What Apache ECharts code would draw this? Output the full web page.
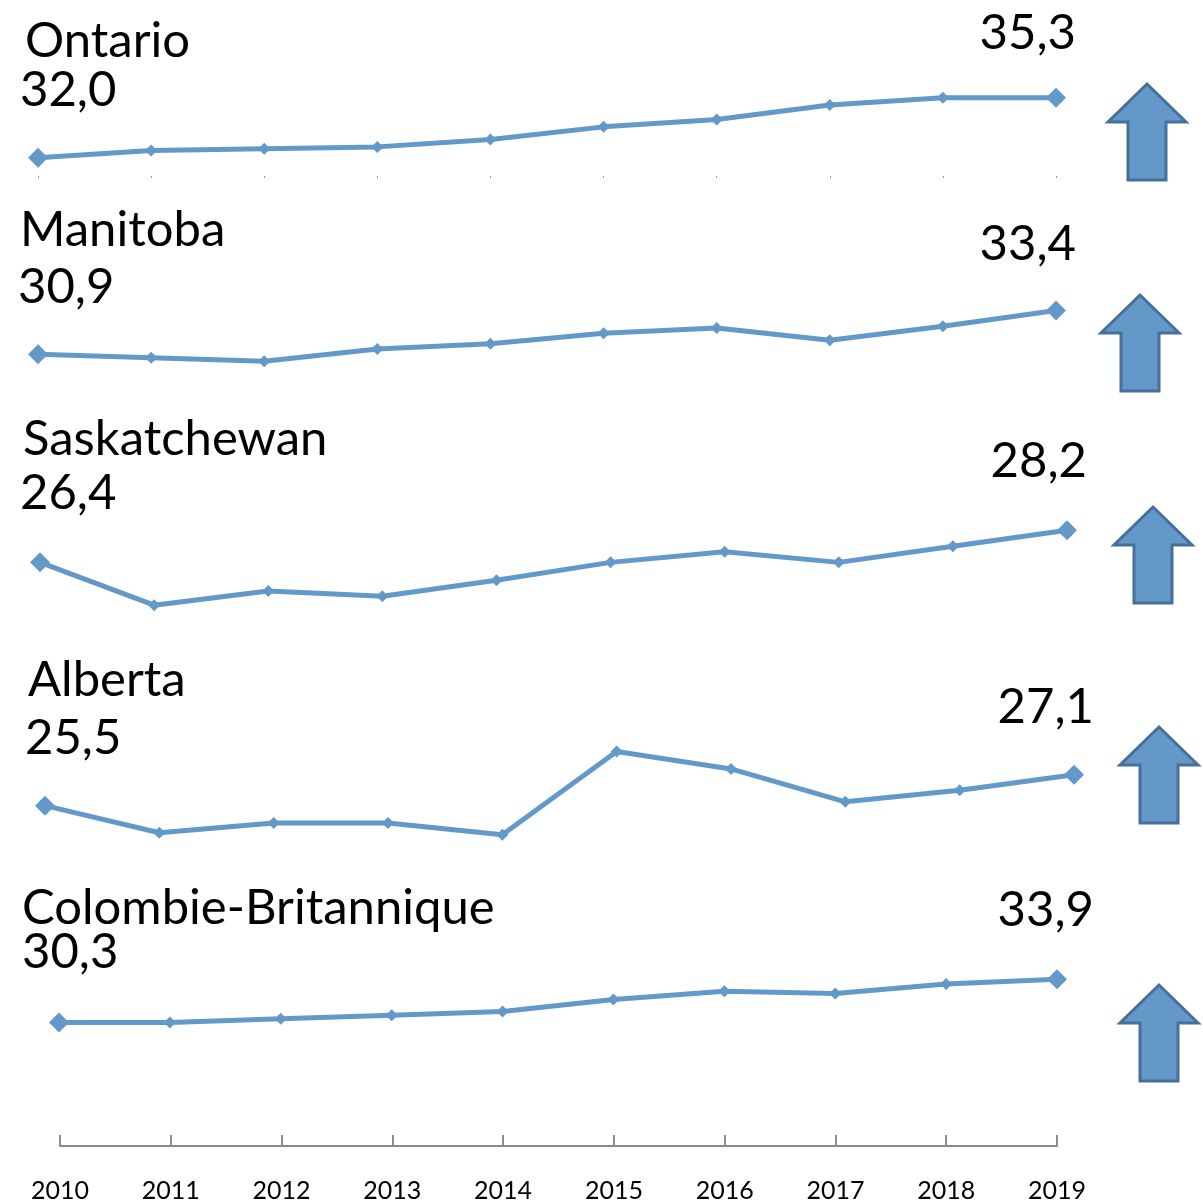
<!DOCTYPE html>
<html>
<head>
<meta charset="utf-8">
<script src="https://cdn.jsdelivr.net/npm/echarts@6.0.0/dist/echarts.min.js"></script>
<style>
  html, body { margin: 0; padding: 0; background: #fff; }
  #chart { width: 1203px; height: 1203px; }
</style>
</head>
<body>
<div id="chart"></div>
<script>
// Data
const years = ['2010', '2011', '2012', '2013', '2014', '2015', '2016', '2017', '2018', '2019'];
const provinces = ['Ontario', 'Manitoba', 'Saskatchewan', 'Alberta', 'Colombie-Britannique'];
const ontario = [32.0, 32.4, 32.5, 32.6, 33.0, 33.7, 34.1, 34.9, 35.3, 35.3];
const manitoba = [30.9, 30.7, 30.5, 31.2, 31.5, 32.1, 32.4, 31.7, 32.5, 33.4];
const saskatchewan = [26.4, 24.0, 24.8, 24.5, 25.4, 26.4, 27.0, 26.4, 27.3, 28.2];
const alberta = [25.5, 24.1, 24.6, 24.6, 24.0, 28.3, 27.4, 25.7, 26.3, 27.1];
const colombie = [30.3, 30.3, 30.6, 30.9, 31.2, 32.2, 32.9, 32.7, 33.5, 33.9];
const seriesData = [ontario, manitoba, saskatchewan, alberta, colombie];

// Layout of each small panel (positions only)
const panels = [
  { left: 38, right: 147, top: 85, height: 91, min: 31, max: 36,
    nameX: 25, nameY: 41, startX: 20, startY: 90, endX: 1076, endY: 33, arrow: [1147, 84] },
  { left: 38, right: 147, top: 300, height: 70, min: 30, max: 34,
    nameX: 20, nameY: 230, startX: 18, startY: 287, endX: 1076, endY: 244, arrow: [1140, 295] },
  { left: 40, right: 136, top: 516, height: 107, min: 23, max: 29,
    nameX: 23, nameY: 439, startX: 20, startY: 493, endX: 1087, endY: 461, arrow: [1153, 507] },
  { left: 45, right: 129, top: 738, height: 116, min: 23, max: 29,
    nameX: 28, nameY: 680, startX: 25, startY: 738, endX: 1094, endY: 707, arrow: [1159, 727] },
  { left: 59, right: 146, top: 966, height: 60, min: 30, max: 35,
    nameX: 22, nameY: 908, startX: 22, startY: 952, endX: 1094, endY: 910, arrow: [1159, 985] }
];

const lineColor = '#6399C9';
const fontFamily = 'Lato, "Noto Sans", sans-serif';
const textFont = '49px ' + fontFamily;
const fmt = (v) => v.toFixed(1).replace('.', ',');

var chartDom = document.getElementById('chart');
var myChart = echarts.init(chartDom);

const grid = [];
const xAxis = [];
const yAxis = [];
const series = [];
const graphic = [];

panels.forEach((p, i) => {
  grid.push({ left: p.left, right: p.right, top: p.top, height: p.height });
  xAxis.push({
    type: 'category',
    gridIndex: i,
    data: years,
    boundaryGap: false,
    axisLine: { show: false },
    axisTick: { show: i === 0, length: 2, lineStyle: { color: '#999' } },
    axisLabel: { show: false }
  });
  yAxis.push({
    type: 'value',
    gridIndex: i,
    min: p.min,
    max: p.max,
    show: false
  });
  const data = seriesData[i];
  series.push({
    type: 'line',
    xAxisIndex: i,
    yAxisIndex: i,
    data: data.map((v, k) => ({
      value: v,
      symbolSize: (k === 0 || k === data.length - 1) ? 20 : 12
    })),
    symbol: 'diamond',
    lineStyle: { color: lineColor, width: 5 },
    itemStyle: { color: lineColor },
    animation: false
  });

  // Province name
  graphic.push({
    type: 'text',
    style: {
      text: provinces[i], x: p.nameX, y: p.nameY,
      font: textFont, fill: '#000',
      textAlign: 'left', textVerticalAlign: 'middle'
    }
  });
  // First value
  graphic.push({
    type: 'text',
    style: {
      text: fmt(data[0]), x: p.startX, y: p.startY,
      font: textFont, fill: '#000',
      textAlign: 'left', textVerticalAlign: 'middle'
    }
  });
  // Last value
  graphic.push({
    type: 'text',
    style: {
      text: fmt(data[data.length - 1]), x: p.endX, y: p.endY,
      font: textFont, fill: '#000',
      textAlign: 'right', textVerticalAlign: 'middle'
    }
  });
  // Up arrow
  const [tx, ty] = p.arrow;
  graphic.push({
    type: 'polygon',
    shape: {
      points: [
        [tx, ty], [tx + 39, ty + 38], [tx + 19, ty + 38], [tx + 19, ty + 96],
        [tx - 19, ty + 96], [tx - 19, ty + 38], [tx - 39, ty + 38]
      ]
    },
    style: { fill: '#6398C8', stroke: '#46709A', lineWidth: 3 }
  });
});

// Shared year axis at the bottom
grid.push({ left: 60, right: 146, top: 1100, height: 46 });
xAxis.push({
  type: 'category',
  gridIndex: 5,
  data: years,
  boundaryGap: false,
  axisLine: { show: true, lineStyle: { color: '#8C8C8C', width: 2 } },
  axisTick: { show: true, inside: true, length: 11, alignWithLabel: true, lineStyle: { color: '#8C8C8C', width: 2 } },
  axisLabel: { color: '#000', fontSize: 25, fontFamily: fontFamily, margin: 32 }
});
yAxis.push({ type: 'value', gridIndex: 5, show: false });

var option = {
  backgroundColor: '#fff',
  animation: false,
  grid,
  xAxis,
  yAxis,
  series,
  graphic
};

option && myChart.setOption(option);
</script>
</body>
</html>
